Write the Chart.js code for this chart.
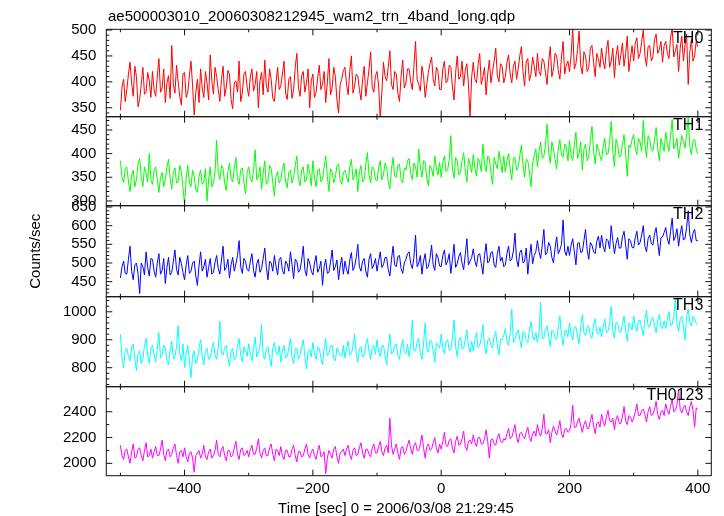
<!DOCTYPE html>
<html>
<head>
<meta charset="utf-8">
<script src="https://cdn.jsdelivr.net/npm/chart.js@4/dist/chart.umd.min.js"></script>
<style>
  html, body { margin: 0; padding: 0; background: #fff; }
</style>
</head>
<body>
<canvas id="chartCurva" width="724" height="516"></canvas>
<script>
// Curva de luz WAM en 4 bandas (binning de 2.5 s)
const binStart = -500;
const binSize = 2.5;

const panelNames = ["TH0", "TH1", "TH2", "TH3", "TH0123"];
const panelColors = ["#ff0000", "#00ff00", "#0000ff", "#00ffff", "#ff00ff"];

const yMin = [332.7, 290, 409.6, 732, 1904];
const yMax = [501.4, 478, 653.6, 1054, 2594];
const yMajor = [50, 50, 50, 100, 200];
const yMinor = [10, 10, 10, 20, 100];
const xMin = -522, xMax = 421;

const tituloGrafico = "ae500003010_20060308212945_wam2_trn_4band_long.qdp";
const etiquetaX = "Time [sec] 0 = 2006/03/08 21:29:45";
const etiquetaY = "Counts/sec";

const th0 = [
  345,390,405,362,385,415,438,398,372,430,410,352,366,395,428,376,380,418,402,370,
  420,385,372,410,445,380,388,425,360,398,412,368,470,395,378,432,400,372,355,415,
  418,370,380,412,440,392,336,380,405,360,425,388,370,420,398,365,452,402,376,428,
  410,385,362,405,430,372,390,422,415,365,348,398,402,380,440,362,378,415,420,390,
  372,410,425,382,395,420,350,402,418,375,442,392,380,425,405,368,362,400,428,385,
  392,415,440,378,366,405,410,368,385,428,455,390,372,412,420,380,398,425,350,402,
  415,370,380,408,432,385,395,420,360,398,445,375,388,428,410,365,340,395,405,422,
  428,395,375,420,450,378,392,415,412,385,365,405,430,372,398,425,458,390,380,412,
  420,392,328,380,438,410,402,428,460,395,385,420,415,378,362,412,442,388,398,425,
  425,400,385,430,478,405,395,382,430,412,370,395,418,435,448,405,392,428,420,385,
  385,425,440,398,402,432,428,390,365,418,450,405,410,440,392,422,435,395,330,410,
  438,405,398,432,455,395,410,428,375,415,442,398,420,440,465,412,400,435,430,398,
  410,438,452,415,398,430,440,405,425,450,468,420,392,438,445,402,415,448,430,410,
  455,420,412,445,440,418,395,438,468,410,425,455,450,422,405,448,478,415,432,440,
  420,452,505,425,435,462,498,430,415,458,450,420,428,465,470,438,410,455,445,428,
  465,440,425,462,480,428,440,465,408,450,470,432,452,475,430,455,488,420,445,470,
  440,475,485,445,455,478,500,452,430,468,470,440,448,482,492,455,462,478,438,470,
  478,455,445,485,505,448,460,472,420,465,488,440,470,492,395,458,482,440,450,478,
  468
];

const th1 = [
  385,350,338,368,372,342,320,355,365,330,345,378,390,352,330,372,360,340,400,345,
  335,365,372,345,318,350,360,330,345,372,388,348,325,360,370,338,340,375,362,330,
  292,348,375,340,330,365,352,325,318,352,365,335,340,368,300,345,372,330,338,362,
  428,360,345,375,368,338,322,362,380,348,340,370,392,345,335,365,370,340,315,360,
  372,348,340,365,408,345,350,372,325,358,385,335,342,375,368,340,310,352,362,338,
  345,368,380,340,328,362,365,338,350,375,395,345,332,365,372,340,345,378,360,332,
  385,348,330,365,368,340,345,372,395,352,320,368,362,338,350,375,378,345,335,360,
  365,350,340,372,388,345,352,368,320,362,375,340,345,378,402,355,338,372,368,345,
  342,372,385,345,355,380,370,340,325,368,392,352,350,375,378,345,338,370,365,385,
  390,358,345,380,372,350,410,372,350,385,382,348,332,375,368,352,395,370,355,382,
  350,382,395,362,365,388,438,368,348,392,385,355,360,385,402,365,340,390,378,360,
  398,370,352,390,382,362,420,378,362,395,390,360,335,392,378,368,405,385,360,395,
  362,385,400,368,345,390,392,365,372,395,418,375,350,388,385,362,330,380,395,410,
  372,405,425,390,395,418,462,402,380,425,410,388,368,412,430,395,392,420,415,385,
  428,395,385,418,445,390,400,425,365,410,420,385,395,428,458,405,378,420,410,395,
  385,415,432,398,400,425,468,405,372,430,418,392,395,420,440,400,352,418,412,430,
  440,410,398,432,425,405,470,420,392,438,430,408,405,428,455,412,385,432,420,405,
  445,420,405,438,472,410,418,432,390,415,438,425,412,440,476,415,398,428,430,410,
  400
];

const th2 = [
  460,490,505,472,470,510,545,478,455,495,500,470,418,500,490,468,530,488,465,512,
  510,478,462,500,525,470,480,512,445,488,515,468,475,505,535,482,468,515,498,475,
  455,495,520,472,478,500,505,465,440,492,530,478,490,510,462,488,512,470,475,502,
  520,485,470,508,545,480,488,510,460,495,515,478,498,520,560,490,472,512,505,482,
  478,505,525,480,462,498,510,475,485,512,540,488,455,505,500,478,520,492,468,510,
  515,480,470,505,498,478,530,495,458,510,505,475,482,508,545,482,465,512,500,478,
  468,500,520,475,485,505,440,490,510,472,475,502,535,480,490,508,455,492,515,470,
  505,482,470,508,528,480,490,515,550,490,478,505,512,478,462,510,525,485,495,512,
  478,505,530,488,495,515,515,482,465,510,545,495,490,518,520,485,472,500,510,525,
  530,498,485,515,575,490,500,520,470,505,525,485,490,512,548,495,480,525,515,492,
  490,520,535,495,505,525,472,510,550,488,498,518,528,500,482,522,565,495,505,515,
  538,505,490,522,525,498,470,520,552,500,505,528,530,495,488,525,545,505,515,490,
  495,525,545,505,510,532,580,510,490,528,535,500,505,540,470,515,550,498,520,530,
  560,530,512,548,590,522,528,555,545,515,500,540,570,525,535,550,615,532,520,545,
  520,548,565,530,495,552,555,528,530,560,590,535,510,555,548,530,525,558,572,540,
  575,545,530,565,560,538,600,560,525,552,568,540,540,570,585,548,510,565,560,542,
  540,568,585,548,555,575,600,545,530,565,575,552,548,578,595,555,520,568,570,582,
  595,565,550,585,620,560,570,592,545,578,600,562,565,595,640,575,555,580,590,560,
  560
];

const th3 = [
  920,835,800,865,870,840,825,875,885,830,790,850,860,815,830,880,905,845,815,870,
  880,845,820,870,925,835,845,880,870,825,810,865,895,830,840,875,950,850,825,885,
  800,850,880,825,765,845,860,815,825,870,900,840,810,862,870,830,835,868,890,845,
  830,870,965,850,845,872,880,835,805,862,870,828,835,880,905,845,820,875,860,840,
  885,850,825,872,910,838,850,880,955,842,830,868,875,835,805,870,890,855,845,878,
  820,862,880,835,840,872,905,840,815,868,870,830,845,875,900,842,795,858,865,838,
  890,848,830,875,870,835,810,868,905,842,850,878,880,832,825,870,860,845,840,880,
  835,870,895,845,850,878,920,852,820,868,875,838,845,882,905,855,830,872,880,848,
  900,855,840,878,880,845,810,872,920,850,855,880,885,842,830,875,900,858,850,885,
  840,880,970,860,860,892,905,850,830,885,960,865,855,898,895,860,820,888,880,870,
  920,870,850,895,900,862,865,905,970,875,840,898,910,865,870,902,935,878,855,895,
  860,900,925,872,880,908,955,875,850,898,905,880,870,910,930,882,845,902,900,915,
  940,895,880,920,1010,890,900,925,935,902,870,930,925,898,890,935,965,910,900,925,
  890,925,1035,905,905,940,950,912,875,935,930,905,900,945,985,915,880,932,935,910,
  960,918,900,945,945,912,885,950,990,925,915,948,950,915,905,955,975,928,920,945,
  910,950,975,925,930,958,1020,935,905,962,960,930,925,955,985,932,895,960,950,935,
  985,948,930,968,970,940,915,972,1005,948,945,975,980,952,925,970,990,945,940,968,
  940,975,1000,950,955,980,1050,958,930,972,985,948,900,982,1010,960,950,985,975,958,
  955
];

const th0123 = [
  2140,2060,2030,2100,2110,2050,2000,2090,2150,2040,2050,2110,2120,2060,2020,2100,2160,2050,2060,2110,
  2040,2090,2130,2060,2060,2110,2180,2070,2020,2100,2110,2050,2070,2120,2150,2060,2000,2090,2100,2050,
  2120,2050,2010,2080,2090,2040,1930,2060,2080,2100,2040,2070,2140,2050,2030,2090,2110,2040,2060,2100,
  2180,2070,2050,2110,2130,2060,2020,2100,2100,2050,2060,2120,2170,2070,2030,2110,2120,2060,2070,2100,
  2050,2110,2140,2070,2070,2120,2190,2080,2040,2100,2120,2060,2060,2120,2150,2070,2020,2110,2100,2060,
  2130,2060,2030,2100,2100,2050,2050,2110,2140,2060,2010,2090,2090,2050,2060,2110,2150,2070,2040,2090,
  2110,2060,2030,2100,2140,2050,2060,2090,1920,2040,2100,2070,2040,2110,2130,2050,2000,2080,2090,2110,
  2060,2110,2140,2070,2030,2100,2120,2060,2070,2120,2160,2080,2040,2110,2110,2070,2050,2120,2150,2080,
  2080,2130,2170,2090,2060,2120,2140,2080,2350,2140,2070,2110,2150,2080,2030,2120,2130,2070,2090,2140,
  2180,2110,2070,2140,2160,2100,2100,2150,2220,2120,2040,2130,2150,2100,2110,2160,2200,2120,2080,2150,
  2110,2170,2240,2140,2130,2180,2190,2120,2080,2170,2210,2140,2150,2190,2250,2130,2100,2170,2180,2150,
  2220,2160,2130,2200,2200,2150,2150,2190,2260,2170,2040,2180,2190,2150,2140,2200,2230,2170,2160,2190,
  2180,2230,2270,2190,2200,2250,2300,2200,2160,2230,2240,2210,2190,2240,2280,2200,2170,2230,2250,2210,
  2300,2240,2210,2270,2380,2230,2230,2260,2160,2240,2290,2250,2220,2270,2330,2230,2200,2260,2270,2240,
  2250,2310,2450,2280,2280,2320,2350,2290,2240,2300,2330,2270,2270,2330,2380,2290,2230,2310,2320,2280,
  2380,2320,2290,2360,2410,2330,2320,2350,2260,2340,2370,2310,2310,2360,2440,2330,2300,2370,2360,2320,
  2350,2400,2460,2370,2370,2410,2420,2380,2320,2400,2440,2370,2380,2420,2480,2380,2340,2400,2410,2370,
  2460,2410,2380,2440,2500,2400,2410,2450,2570,2420,2390,2430,2450,2400,2370,2440,2480,2410,2280,2430,
  2420
];

const series = [th0, th1, th2, th3, th0123];
const panelWeights = [87.4, 89, 91, 90, 89];

const fuente = '"Liberation Sans", Arial, Helvetica, sans-serif';

// dibuja marcos, ticks hacia dentro y textos de estilo QDP/PGPLOT
const marcosPlugin = {
  id: 'marcos',
  afterDraw(chart) {
    const ctx = chart.ctx;
    const xs = chart.scales.x;
    ctx.save();
    ctx.strokeStyle = '#111';
    ctx.fillStyle = '#000';
    ctx.lineWidth = 1;
    panelNames.forEach((nombre, i) => {
      const ys = chart.scales['y' + i];
      const left = xs.left, right = xs.right, top = ys.top, bottom = ys.bottom;
      ctx.strokeRect(left, top, right - left, bottom - top);
      ctx.beginPath();
      for (let v = Math.ceil(ys.min / yMinor[i]) * yMinor[i]; v <= ys.max; v += yMinor[i]) {
        const py = ys.getPixelForValue(v);
        const len = v % yMajor[i] === 0 ? 6 : 3;
        ctx.moveTo(left, py); ctx.lineTo(left + len, py);
        ctx.moveTo(right, py); ctx.lineTo(right - len, py);
      }
      for (let v = Math.ceil(xs.min / 100) * 100; v <= xs.max; v += 100) {
        const px = xs.getPixelForValue(v);
        const len = v % 200 === 0 ? 6 : 3;
        ctx.moveTo(px, top); ctx.lineTo(px, top + len);
        ctx.moveTo(px, bottom); ctx.lineTo(px, bottom - len);
      }
      ctx.stroke();
      ctx.font = '16px ' + fuente;
      ctx.textAlign = 'right';
      ctx.textBaseline = 'alphabetic';
      ctx.fillText(nombre, right - 8, top + 13.5);
    });
    ctx.font = '15px ' + fuente;
    ctx.textAlign = 'left';
    ctx.fillText(tituloGrafico, 108, 21);
    ctx.textAlign = 'center';
    ctx.fillText(etiquetaX, 396, 513);
    ctx.restore();
  }
};

function ejeY(i) {
  return {
    type: 'linear',
    position: 'left',
    stack: 'paneles',
    stackWeight: panelWeights[i],
    min: yMin[i],
    max: yMax[i],
    grid: { display: false, drawTicks: false },
    border: { display: false },
    ticks: {
      stepSize: yMajor[i],
      includeBounds: false,
      autoSkip: false,
      padding: 10,
      color: '#000',
      font: { family: fuente, size: 15 },
      callback: (v) => String(v)
    },
    title: {
      display: i === 2,
      text: etiquetaY,
      color: '#000',
      font: { family: fuente, size: 15 },
      padding: { top: 27, bottom: 0 }
    },
    afterFit: (s) => { s.width = 106.3; }
  };
}

function grafico_curvas() {
  const canvas = document.getElementById('chartCurva');
  const escalas = {
    x: {
      type: 'linear',
      position: 'bottom',
      min: xMin,
      max: xMax,
      grid: { display: false, drawTicks: false },
      border: { display: false },
      ticks: {
        stepSize: 200,
        includeBounds: false,
        autoSkip: false,
        maxRotation: 0,
        padding: 4,
        color: '#000',
        font: { family: fuente, size: 15 },
        callback: (v) => String(v).replace('-', '\u2212')
      },
      afterFit: (s) => { s.height = 40.3; }
    }
  };
  // los ejes apilados se colocan de abajo hacia arriba: se definen al revés
  for (let i = panelNames.length - 1; i >= 0; i--) {
    escalas['y' + i] = ejeY(i);
  }

  new Chart(canvas, {
    type: 'line',
    data: {
      datasets: series.map((valores, i) => ({
        label: panelNames[i],
        data: valores.map((v, k) => ({ x: binStart + k * binSize, y: v })),
        yAxisID: 'y' + i,
        borderColor: panelColors[i],
        borderWidth: 1,
        pointRadius: 0,
        tension: 0,
        clip: 0
      }))
    },
    options: {
      responsive: false,
      animation: false,
      devicePixelRatio: 1,
      layout: { padding: { top: 29.3, right: 12.7, left: 0, bottom: 0 } },
      plugins: { legend: { display: false }, tooltip: { enabled: false } },
      scales: escalas
    },
    plugins: [marcosPlugin]
  });
}

grafico_curvas();
</script>
</body>
</html>
